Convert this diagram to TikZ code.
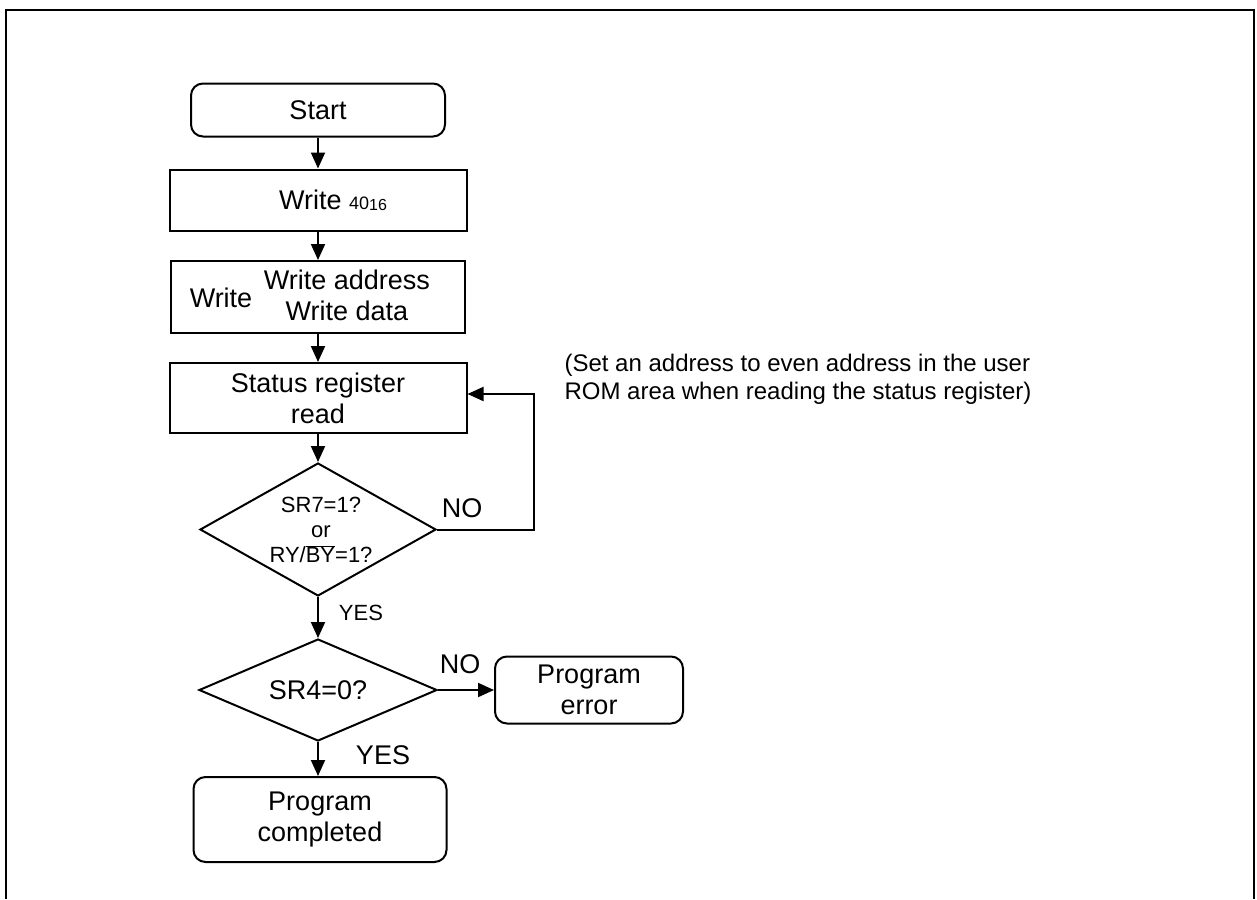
\documentclass[tikz,border=0pt]{standalone}
\usepackage{fontspec}
\setmainfont{Liberation Sans}
\usetikzlibrary{shapes.geometric,arrows.meta}
\begin{document}
\begin{tikzpicture}[x=1pt,y=-1pt,
  box/.style={draw,line width=2pt,inner sep=0pt,align=center},
  rbox/.style={box,rounded corners=12pt},
  dia/.style={draw,line width=2pt,diamond,inner sep=0pt},
  arr/.style={line width=2pt,-{Triangle[length=16pt,width=14pt]}},
  big/.style={font=\fontsize{27}{31}\selectfont},
  small/.style={font=\fontsize{22}{25}\selectfont},
  note/.style={font=\fontsize{24}{28}\selectfont}
]
\useasboundingbox (0,0) rectangle (1257,899);
% frame
\draw[line width=2pt] (6,899) -- (6,10) -- (1254,10) -- (1254,899);

% nodes
\node[rbox,big,minimum width=254pt,minimum height=53pt] (start) at (318,110) {Start};
\node[box,minimum width=297pt,minimum height=61pt] (w40) at (318,200) {};
\node[big] (w40t) at (333,200) {Write {\fontsize{18}{20}\selectfont 40\raisebox{-1pt}{\fontsize{16}{18}\selectfont 16}}};
\node[box,minimum width=294pt,minimum height=72pt] (wad) at (318,297) {};
\node[big] (wadl) at (221,298) {Write};
\node[big,align=center] (wadr) at (347,295) {Write address\\Write data};
\node[box,big,minimum width=297pt,minimum height=70pt] (stat) at (318,398) {Status register\\read};
\node[dia,minimum width=236pt,minimum height=133pt] (d1) at (318,529.5) {};
\node[small,align=center] (d1t) at (321,530) {SR7=1?\\or\\RY/$\overline{\mbox{BY}}$=1?};
\node[dia,minimum width=238pt,minimum height=102pt] (d2) at (318,690) {};
\node[big] (d2t) at (318,690) {SR4=0?};
\node[rbox,big,minimum width=188pt,minimum height=67pt] (perr) at (589,690) {Program\\error};
\node[rbox,big,minimum width=253pt,minimum height=85pt] (pcomp) at (320,819.5) {Program\\completed};

% labels
\node[big] (no1) at (462,508) {NO};
\node[small] (yes1) at (361,613) {YES};
\node[big] (no2) at (460,664) {NO};
\node[big] (yes2) at (383,755) {YES};
\node[note,anchor=west,align=left] (note) at (561,379) {(Set an address to even address in the user\\ROM area when reading the status register)};

% connectors
\draw[arr] (start) -- (w40);
\draw[arr] (w40) -- (wad);
\draw[arr] (wad) -- (stat);
\draw[arr] (stat) -- (d1);
\draw[arr] (d1.east) -- ++(97,0) |- ([yshift=4pt]stat.east);
\draw[arr] (d1) -- (d2);
\draw[arr] (d2.east) -- (perr.west);
\draw[arr] (d2.south) -- (d2.south |- pcomp.north);
\end{tikzpicture}
\end{document}
